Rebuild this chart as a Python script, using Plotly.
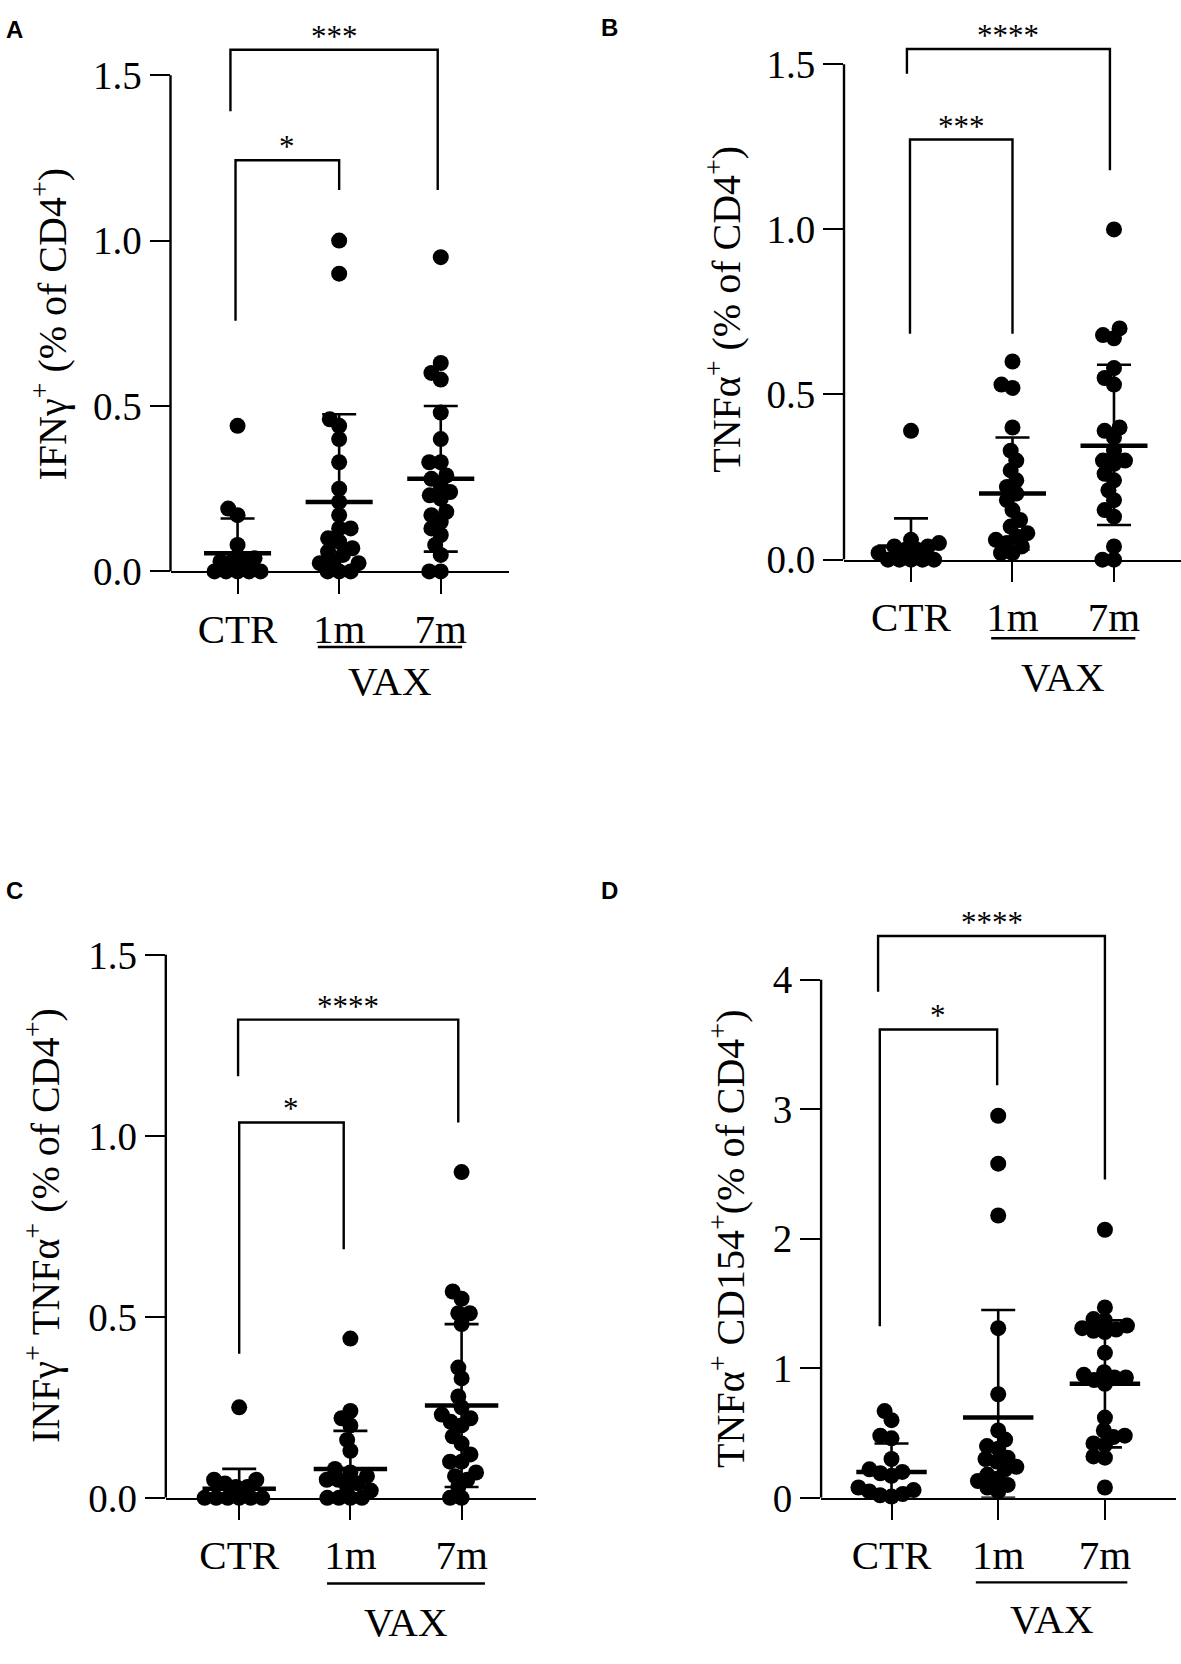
import numpy as np
import plotly.graph_objects as go

W, H = 1181, 1664
groups = ['CTR', '1m', '7m']

# A: IFNγ+ (% of CD4+)
ifng_ctr = [0.44, 0.19, 0.17, 0.08, 0.04, 0.03, 0.03, 0.03, 0.0, 0.0, 0.0, 0.0, 0.0]
ifng_1m = [1.00, 0.90, 0.46, 0.44, 0.40, 0.33, 0.25, 0.21, 0.17, 0.13, 0.13, 0.10, 0.09,
           0.07, 0.06, 0.05, 0.03, 0.025, 0.025, 0.0, 0.0, 0.0]
ifng_7m = [0.95, 0.63, 0.60, 0.58, 0.48, 0.40, 0.33, 0.33, 0.29, 0.28, 0.26, 0.24, 0.23,
           0.22, 0.18, 0.17, 0.15, 0.13, 0.11, 0.08, 0.05, 0.0, 0.0]
ifng_mean = [0.055, 0.21, 0.28]
ifng_upper = [0.16, 0.475, 0.50]
ifng_lower = [0.0, 0.0, 0.06]

# B: TNFα+ (% of CD4+)
tnf_ctr = [0.39, 0.06, 0.05, 0.04, 0.04, 0.03, 0.03, 0.02, 0.0, 0.0, 0.0, 0.0, 0.0]
tnf_1m = [0.60, 0.53, 0.52, 0.40, 0.33, 0.30, 0.27, 0.24, 0.22, 0.20, 0.18, 0.15, 0.12,
          0.10, 0.08, 0.07, 0.06, 0.05, 0.04, 0.02, 0.02]
tnf_7m = [1.00, 0.70, 0.68, 0.67, 0.58, 0.55, 0.53, 0.40, 0.39, 0.37, 0.33, 0.30, 0.30,
          0.29, 0.26, 0.24, 0.21, 0.18, 0.15, 0.13, 0.04, 0.0, 0.0]
tnf_mean = [0.04, 0.20, 0.345]
tnf_upper = [0.125, 0.37, 0.59]
tnf_lower = [0.0, 0.03, 0.105]

# C: INFγ+ TNFα+ (% of CD4+)
dp_ctr = [0.25, 0.05, 0.05, 0.04, 0.03, 0.03, 0.0, 0.0, 0.0, 0.0, 0.0, 0.0]
dp_1m = [0.44, 0.24, 0.22, 0.20, 0.16, 0.13, 0.08, 0.07, 0.06, 0.05, 0.05, 0.04, 0.03,
         0.02, 0.0, 0.0, 0.0, 0.0]
dp_7m = [0.90, 0.57, 0.55, 0.51, 0.51, 0.48, 0.36, 0.33, 0.28, 0.25, 0.23, 0.22, 0.21,
         0.20, 0.17, 0.15, 0.12, 0.10, 0.10, 0.07, 0.06, 0.05, 0.03, 0.0, 0.0]
dp_mean = [0.025, 0.08, 0.255]
dp_upper = [0.08, 0.185, 0.48]
dp_lower = [0.0, 0.0, 0.03]

# D: TNFα+ CD154+ (% of CD4+)
cd154_ctr = [0.67, 0.60, 0.48, 0.46, 0.30, 0.22, 0.20, 0.19, 0.17, 0.08, 0.06, 0.05, 0.03,
             0.02, 0.01]
cd154_1m = [2.95, 2.58, 2.18, 1.31, 0.80, 0.52, 0.45, 0.40, 0.38, 0.31, 0.30, 0.28, 0.24,
            0.22, 0.18, 0.15, 0.13, 0.10, 0.08, 0.05]
cd154_7m = [2.07, 1.47, 1.38, 1.37, 1.33, 1.31, 1.30, 1.29, 1.28, 1.12, 0.97, 0.95, 0.93,
            0.93, 0.91, 0.88, 0.62, 0.52, 0.48, 0.47, 0.42, 0.41, 0.32, 0.31, 0.08]
cd154_mean = [0.20, 0.62, 0.88]
cd154_upper = [0.42, 1.45, 1.37]
cd154_lower = [0.0, 0.0, 0.39]

panels = [
    dict(letter='A', vals=[ifng_ctr, ifng_1m, ifng_7m],
         mean=ifng_mean, upper=ifng_upper, lower=ifng_lower,
         yticks=[0, 0.5, 1.0, 1.5], ytext=['0.0', '0.5', '1.0', '1.5'],
         title='IFNγ<sup>+</sup> (% of CD4<sup>+</sup>)',
         # (left x, right x, top, left foot, right foot, label)
         brackets=[(-0.02, 1.0, 1.243, 0.758, 1.153, '*'),
                   (-0.07, 1.97, 1.577, 1.391, 1.153, '***')]),
    dict(letter='B', vals=[tnf_ctr, tnf_1m, tnf_7m],
         mean=tnf_mean, upper=tnf_upper, lower=tnf_lower,
         yticks=[0, 0.5, 1.0, 1.5], ytext=['0.0', '0.5', '1.0', '1.5'],
         title='TNFα<sup>+</sup> (% of CD4<sup>+</sup>)',
         brackets=[(-0.01, 1.0, 1.272, 0.684, 0.684, '***'),
                   (-0.04, 1.96, 1.546, 1.471, 1.179, '****')]),
    dict(letter='C', vals=[dp_ctr, dp_1m, dp_7m],
         mean=dp_mean, upper=dp_upper, lower=dp_lower,
         yticks=[0, 0.5, 1.0, 1.5], ytext=['0.0', '0.5', '1.0', '1.5'],
         title='INFγ<sup>+</sup> TNFα<sup>+</sup> (% of CD4<sup>+</sup>)',
         brackets=[(0.0, 0.94, 1.037, 0.398, 0.687, '*'),
                   (-0.01, 1.97, 1.321, 1.165, 1.037, '****')]),
    dict(letter='D', vals=[cd154_ctr, cd154_1m, cd154_7m],
         mean=cd154_mean, upper=cd154_upper, lower=cd154_lower,
         yticks=[0, 1, 2, 3, 4], ytext=['0', '1', '2', '3', '4'],
         title='TNFα<sup>+</sup> CD154<sup>+</sup>(% of CD4<sup>+</sup>)',
         brackets=[(-0.11, 0.99, 3.616, 1.324, 3.186, '*'),
                   (-0.126, 2.0, 4.338, 3.908, 2.457, '****')]),
]

# pixel geometry of each panel (y-axis x, category spacing, zero line y, px per unit, top of area)
geom = [
    dict(ax=170.5, sp=101.6, zero=575.1, unit=336.5, top=18, tx=50, ty=324, lx=4, ly=8,
         vline=652, vtext=687),
    dict(ax=844, sp=101.5, zero=563.1, unit=335.9, top=18, tx=724, ty=309, lx=599, ly=6,
         vline=643, vtext=682),
    dict(ax=165.8, sp=111.2, zero=1517.4, unit=368.2, top=950, tx=42, ty=1241, lx=4, ly=884,
         vline=1604.5, vtext=1644),
    dict(ax=821.1, sp=106.7, zero=1517.4, unit=131.75, top=918, tx=728, ty=1254, lx=599, ly=884,
         vline=1603.4, vtext=1641),
]

SERIF = 'Liberation Serif, Times New Roman, serif'
LW = 2.4
MS = 16


def swarm(vals, unit_px, d):
    # simple beeswarm: offsets in px, dots allowed to overlap a little
    vals = np.asarray(vals, dtype=float)
    order = np.argsort(vals, kind='stable')
    placed = []
    xs = np.zeros(len(vals))
    for i in order:
        y = vals[i] * unit_px
        cands = [0.0]
        for px, py in placed:
            dy = abs(y - py)
            if dy < d:
                dx = np.sqrt(d * d - dy * dy)
                cands += [px - dx, px + dx]
        ok = [c for c in cands
              if all((c - px) ** 2 + (y - py) ** 2 >= d * d - 1e-6 for px, py in placed)]
        best = min(ok, key=lambda c: (abs(c), c))
        xs[i] = best
        placed.append((best, y))
    return xs


fig = go.Figure()
shapes = []
annotations = []
x_left = -0.66

for k, (p, g) in enumerate(zip(panels, geom), start=1):
    xa = 'x' if k == 1 else 'x%d' % k
    ya = 'y' if k == 1 else 'y%d' % k
    right_px = min(W, g['ax'] + 3.33 * g['sp'])
    x_right = x_left + (right_px - g['ax']) / g['sp']
    y_top = (g['zero'] - g['top']) / g['unit']

    # points
    for i, v in enumerate(p['vals']):
        off = swarm(v, g['unit'], MS * 0.72) / g['sp']
        fig.add_trace(go.Scatter(
            x=i + off, y=v, mode='markers', xaxis=xa, yaxis=ya,
            marker=dict(size=MS, color='black', line=dict(width=0)),
            cliponaxis=False, hoverinfo='y'))

    # mean lines
    mx, my = [], []
    for i, m in enumerate(p['mean']):
        mx += [i - 0.33, i + 0.33, None]
        my += [m, m, None]
    fig.add_trace(go.Scatter(x=mx, y=my, mode='lines', xaxis=xa, yaxis=ya,
                             line=dict(color='black', width=4.5), hoverinfo='skip'))

    # SD bars
    up = [u - m for u, m in zip(p['upper'], p['mean'])]
    dn = [m - lo for lo, m in zip(p['lower'], p['mean'])]
    fig.add_trace(go.Scatter(
        x=[0, 1, 2], y=p['mean'], mode='markers', xaxis=xa, yaxis=ya,
        marker=dict(size=1, color='rgba(0,0,0,0)'),
        error_y=dict(type='data', symmetric=False, array=up, arrayminus=dn,
                     width=17, thickness=2.6, color='black'),
        hoverinfo='skip'))

    # brackets
    for (x0, x1, top, f0, f1, lab) in p['brackets']:
        shapes.append(dict(type='path', xref=xa, yref=ya,
                           path='M %f,%f L %f,%f L %f,%f L %f,%f' % (x0, f0, x0, top, x1, top, x1, f1),
                           line=dict(color='black', width=LW)))
        annotations.append(dict(xref=xa, yref=ya, x=(x0 + x1) / 2, y=top, text=lab,
                                showarrow=False, yanchor='bottom', yshift=-6,
                                font=dict(family=SERIF, size=31, color='black')))

    # y axis line only up to the last tick
    shapes.append(dict(type='line', xref=xa + ' domain', yref=ya, x0=0, x1=0,
                       y0=0, y1=p['yticks'][-1], line=dict(color='black', width=LW)))

    # VAX group line and label
    shapes.append(dict(type='line', xref=xa, yref='paper', x0=0.79, x1=2.21,
                       y0=1 - g['vline'] / H, y1=1 - g['vline'] / H,
                       line=dict(color='black', width=LW)))
    annotations.append(dict(xref=xa, yref='paper', x=1.5, y=1 - g['vtext'] / H, text='VAX',
                            showarrow=False, yanchor='middle',
                            font=dict(family=SERIF, size=41, color='black')))

    # y title
    annotations.append(dict(xref='paper', yref='paper', x=g['tx'] / W, y=1 - g['ty'] / H,
                            text=p['title'], textangle=-90, showarrow=False,
                            xanchor='center', yanchor='middle',
                            font=dict(family=SERIF, size=40, color='black')))
    # panel letter
    annotations.append(dict(xref='paper', yref='paper', x=g['lx'] / W, y=1 - g['ly'] / H,
                            text='<b>%s</b>' % p['letter'], showarrow=False,
                            xanchor='left', yanchor='top',
                            font=dict(family='Liberation Sans, Arial, sans-serif', size=24,
                                      color='black')))

    fig.layout['xaxis' if k == 1 else 'xaxis%d' % k] = dict(
        domain=[g['ax'] / W, right_px / W], range=[x_left, x_right], anchor=ya,
        tickvals=[0, 1, 2], ticktext=groups, ticks='outside', ticklen=20,
        tickwidth=LW, tickcolor='black', showline=True, linewidth=LW, linecolor='black',
        showgrid=False, zeroline=False, fixedrange=True,
        tickfont=dict(family=SERIF, size=41, color='black'))
    fig.layout['yaxis' if k == 1 else 'yaxis%d' % k] = dict(
        domain=[1 - g['zero'] / H, 1 - g['top'] / H], range=[0, y_top], anchor=xa,
        tickvals=p['yticks'], ticktext=p['ytext'], ticks='outside', ticklen=20,
        tickwidth=LW, tickcolor='black', showline=False, showgrid=False,
        zeroline=False, fixedrange=True,
        tickfont=dict(family=SERIF, size=39, color='black'))

fig.update_layout(width=W, height=H, margin=dict(l=0, r=0, t=0, b=0),
                  paper_bgcolor='white', plot_bgcolor='white', showlegend=False,
                  shapes=shapes, annotations=annotations)

# the page body has a default 8px margin; drop it so the figure fills the window
fig.write_html('out.html', config={'displayModeBar': False},
               post_script="document.body.style.margin='0';")
